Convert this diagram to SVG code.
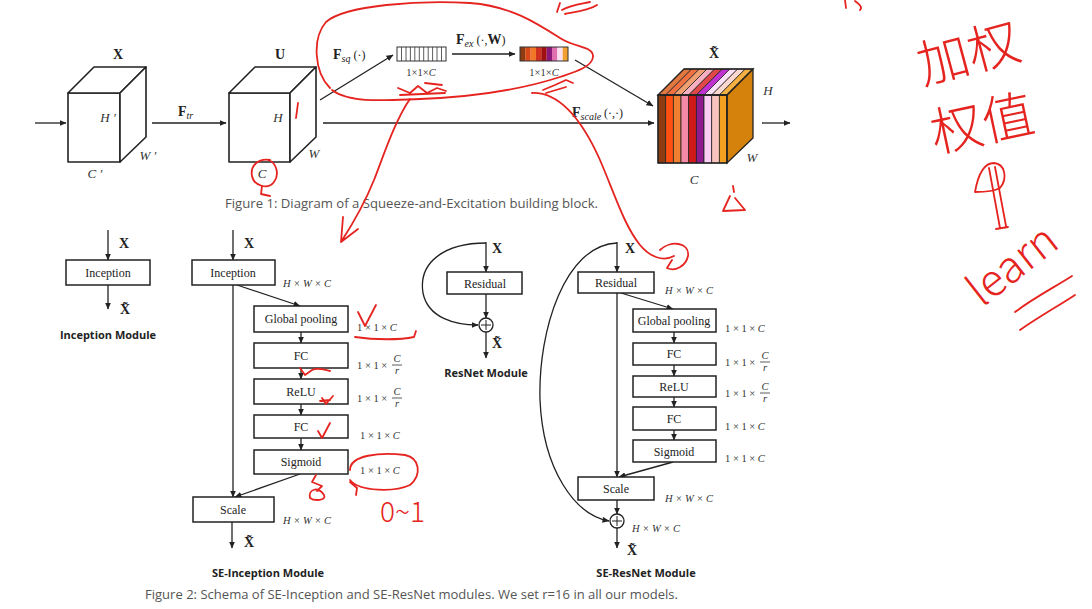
<svg xmlns="http://www.w3.org/2000/svg" width="1092" height="609" viewBox="0 0 1092 609">
<defs>
<marker id="ah" markerWidth="7" markerHeight="6" refX="6.5" refY="3" orient="auto" markerUnits="userSpaceOnUse"><path d="M0,0 L7,3 L0,6 z" fill="#222"/></marker>
<style>
.ln{stroke:#222;stroke-width:1.3;fill:none}
.box{fill:#fff;stroke:#222;stroke-width:1.5}
.cube{fill:#fff;stroke:#222;stroke-width:1.6;stroke-linejoin:round}
.t{font-family:"Liberation Serif","DejaVu Serif",serif;font-size:12px;fill:#222;text-anchor:middle}
.lab{font-family:"Liberation Serif","DejaVu Serif",serif;font-style:italic;font-size:10.5px;fill:#333}
.num{font-family:"Liberation Serif","DejaVu Serif",serif;font-size:10.5px;fill:#333}
.bx{font-family:"Liberation Serif","DejaVu Serif",serif;font-weight:bold;font-size:14px;fill:#222}
.it{font-family:"Liberation Serif","DejaVu Serif",serif;font-style:italic;font-size:13px;fill:#333}
.cap{font-family:"Open Sans","Liberation Sans",sans-serif;font-size:12.5px;fill:#555}
.mod{font-family:"Open Sans","Liberation Sans",sans-serif;font-weight:bold;font-size:11px;fill:#222;text-anchor:middle}
.red{stroke:#e52420;stroke-width:1.8;fill:none;stroke-linecap:round;stroke-linejoin:round}
.hw{fill:#e52420;font-family:"Noto Sans CJK SC","Noto Sans",sans-serif;font-weight:300}
.stp{stroke:#222;stroke-width:0.8}
</style>
</defs>
<rect width="1092" height="609" fill="#fff"/>

<!-- Figure 1 -->
<g id="cube-X">
<rect class="cube" x="68" y="93" width="52" height="69"/>
<polygon class="cube" points="68,93 94,67 146,67 120,93"/>
<polygon class="cube" points="120,93 146,67 146,137 120,162"/>
<text class="bx" x="118" y="59" text-anchor="middle">X</text>
<text class="it" x="108" y="122" text-anchor="middle">H ′</text>
<text class="it" x="148" y="160" text-anchor="middle">W ′</text>
<text class="it" x="95" y="178" text-anchor="middle">C ′</text>
</g>
<g id="cube-U">
<rect class="cube" x="229" y="93" width="61" height="69"/>
<polygon class="cube" points="229,93 255,67 316,67 290,93"/>
<polygon class="cube" points="290,93 316,67 316,137 290,162"/>
<text class="bx" x="280" y="59" text-anchor="middle">U</text>
<text class="it" x="278" y="122" text-anchor="middle">H</text>
<text class="it" x="314" y="158" text-anchor="middle">W</text>
<text class="it" x="262" y="178" text-anchor="middle">C</text>
</g>
<g id="vec-sq">
<rect x="397" y="47" width="49" height="14" fill="#fff" stroke="#333" stroke-width="1"/>
<path stroke="#333" stroke-width="0.8" d="M401.5,47V61M406,47V61M410.4,47V61M414.8,47V61M419.3,47V61M423.7,47V61M428.2,47V61M432.6,47V61M437,47V61M441.5,47V61"/>
<text class="num" x="421" y="76" text-anchor="middle" font-size="10">1×1×<tspan font-style="italic">C</tspan></text>
</g>
<g id="vec-ex">
<rect x="520" y="47" width="5.4" height="14" fill="#8c3c10"/>
<rect x="525.3" y="47" width="5.4" height="14" fill="#d84818"/>
<rect x="530.7" y="47" width="5.4" height="14" fill="#f07828"/>
<rect x="536" y="47" width="5.4" height="14" fill="#d03020"/>
<rect x="541.3" y="47" width="5.4" height="14" fill="#a01010"/>
<rect x="546.7" y="47" width="5.4" height="14" fill="#8a1a7a"/>
<rect x="552" y="47" width="5.4" height="14" fill="#e070b0"/>
<rect x="557.3" y="47" width="5.4" height="14" fill="#f8e0f0"/>
<rect x="562.7" y="47" width="5.3" height="14" fill="#f0a030"/>
<rect x="520" y="47" width="48" height="14" fill="none" stroke="#333" stroke-width="1"/>
<text class="num" x="544" y="76" text-anchor="middle" font-size="10">1×1×<tspan font-style="italic">C</tspan></text>
</g>
<g id="cube-Xt">
<rect x="658" y="95" width="7.7" height="68" fill="#8c3c10" class="stp"/>
<rect x="665.7" y="95" width="7.7" height="68" fill="#ff5010" class="stp"/>
<rect x="673.3" y="95" width="7.7" height="68" fill="#f08030" class="stp"/>
<rect x="681" y="95" width="7.7" height="68" fill="#f48aa8" class="stp"/>
<rect x="688.7" y="95" width="7.7" height="68" fill="#d01a1a" class="stp"/>
<rect x="696.3" y="95" width="7.7" height="68" fill="#8e1c8e" class="stp"/>
<rect x="704" y="95" width="7.7" height="68" fill="#fcd0f4" class="stp"/>
<rect x="711.7" y="95" width="7.7" height="68" fill="#f6c4bc" class="stp"/>
<rect x="719.3" y="95" width="7.7" height="68" fill="#f4a020" class="stp"/>
<polygon class="stp" fill="#e07840" points="658,95 684,69 691.7,69 665.7,95"/>
<polygon class="stp" fill="#f07040" points="665.7,95 691.7,69 699.3,69 673.3,95"/>
<polygon class="stp" fill="#f0a070" points="673.3,95 699.3,69 707,69 681,95"/>
<polygon class="stp" fill="#f4b0c0" points="681,95 707,69 714.7,69 688.7,95"/>
<polygon class="stp" fill="#e04848" points="688.7,95 714.7,69 722.3,69 696.3,95"/>
<polygon class="stp" fill="#c030d0" points="696.3,95 722.3,69 730,69 704,95"/>
<polygon class="stp" fill="#fce0f8" points="704,95 730,69 737.7,69 711.7,95"/>
<polygon class="stp" fill="#f8d8d0" points="711.7,95 737.7,69 745.3,69 719.3,95"/>
<polygon class="stp" fill="#f4b040" points="719.3,95 745.3,69 753,69 727,95"/>
<polygon fill="#d4820c" stroke="#222" stroke-width="1.3" points="727,95 753,69 753,138 727,163"/>
<rect x="658" y="95" width="69" height="68" fill="none" stroke="#222" stroke-width="1.4"/>
<polygon fill="none" stroke="#222" stroke-width="1.3" points="658,95 684,69 753,69 727,95"/>
<text class="bx" x="714" y="58" text-anchor="middle">X̃</text>
<text class="it" x="768" y="95" text-anchor="middle">H</text>
<text class="it" x="752" y="162" text-anchor="middle">W</text>
<text class="it" x="694" y="184" text-anchor="middle">C</text>
</g>

<g id="connectors">
<line class="ln" x1="35" y1="123" x2="66" y2="123" marker-end="url(#ah)"/>
<line class="ln" x1="152" y1="123" x2="226" y2="123" marker-end="url(#ah)"/>
<line class="ln" x1="320" y1="100" x2="393" y2="55" marker-end="url(#ah)"/>
<line class="ln" x1="452" y1="54" x2="515" y2="54" marker-end="url(#ah)"/>
<line class="ln" x1="575" y1="60" x2="653" y2="106" marker-end="url(#ah)"/>
<line class="ln" x1="323" y1="123" x2="654" y2="123" marker-end="url(#ah)"/>
<line class="ln" x1="762" y1="123" x2="790" y2="123" marker-end="url(#ah)"/>
<line class="ln" x1="108" y1="230" x2="108" y2="260" marker-end="url(#ah)"/>
<line class="ln" x1="108" y1="285" x2="108" y2="309" marker-end="url(#ah)"/>
<line class="ln" x1="233" y1="230" x2="233" y2="260" marker-end="url(#ah)"/>
<line class="ln" x1="233" y1="285" x2="233" y2="497" marker-end="url(#ah)"/>
<line class="ln" x1="237" y1="285" x2="300" y2="306" marker-end="url(#ah)"/>
<line class="ln" x1="301" y1="332" x2="301" y2="343" marker-end="url(#ah)"/>
<line class="ln" x1="301" y1="368" x2="301" y2="379" marker-end="url(#ah)"/>
<line class="ln" x1="301" y1="404" x2="301" y2="415" marker-end="url(#ah)"/>
<line class="ln" x1="301" y1="438" x2="301" y2="450" marker-end="url(#ah)"/>
<line class="ln" x1="300" y1="474" x2="235" y2="497" marker-end="url(#ah)"/>
<line class="ln" x1="232" y1="522" x2="232" y2="548" marker-end="url(#ah)"/>
<line class="ln" x1="486" y1="242" x2="486" y2="272" marker-end="url(#ah)"/>
<path class="ln" d="M486,243 C445,243 418,262 423,293 C428,318 455,325 478,325" marker-end="url(#ah)"/>
<line class="ln" x1="486" y1="294" x2="486" y2="318" marker-end="url(#ah)"/>
<line class="ln" x1="486" y1="332" x2="486" y2="358" marker-end="url(#ah)"/>
<line class="ln" x1="617" y1="242" x2="617" y2="272" marker-end="url(#ah)"/>
<path class="ln" d="M617,243 C565,245 538,330 540,400 C543,470 575,515 609,521" marker-end="url(#ah)"/>
<line class="ln" x1="617" y1="293" x2="617" y2="477" marker-end="url(#ah)"/>
<line class="ln" x1="621" y1="293" x2="673" y2="309" marker-end="url(#ah)"/>
<line class="ln" x1="674" y1="332" x2="674" y2="343" marker-end="url(#ah)"/>
<line class="ln" x1="674" y1="365" x2="674" y2="376" marker-end="url(#ah)"/>
<line class="ln" x1="674" y1="397" x2="674" y2="407" marker-end="url(#ah)"/>
<line class="ln" x1="674" y1="430" x2="674" y2="440" marker-end="url(#ah)"/>
<line class="ln" x1="673" y1="462" x2="619" y2="477" marker-end="url(#ah)"/>
<line class="ln" x1="617" y1="500" x2="617" y2="514" marker-end="url(#ah)"/>
<line class="ln" x1="617" y1="528" x2="617" y2="548" marker-end="url(#ah)"/>
</g>

<g id="fig1-labels">
<text class="bx" x="178" y="116">F<tspan font-style="italic" font-weight="normal" font-size="10" dy="3">tr</tspan></text>
<text class="bx" x="333" y="59">F<tspan font-style="italic" font-weight="normal" font-size="10" dy="3">sq</tspan><tspan font-weight="normal" font-size="12" dy="-3"> (·)</tspan></text>
<text class="bx" x="456" y="44">F<tspan font-style="italic" font-weight="normal" font-size="10" dy="3">ex</tspan><tspan font-weight="normal" font-size="12" dy="-3"> (·,</tspan>W<tspan font-weight="normal" font-size="12">)</tspan></text>
<text class="bx" x="572" y="117">F<tspan font-style="italic" font-weight="normal" font-size="10" dy="3">scale</tspan><tspan font-weight="normal" font-size="12" dy="-3"> (·,·)</tspan></text>
</g>
<text class="cap" x="225" y="208" textLength="373" lengthAdjust="spacingAndGlyphs">Figure 1: Diagram of a Squeeze-and-Excitation building block.</text>

<g id="inc">
<text class="bx" x="124" y="248" font-size="13" text-anchor="middle">X</text>
<rect class="box" x="66" y="260" width="84" height="25"/>
<text class="t" x="108" y="277">Inception</text>
<text class="bx" x="125" y="314" font-size="13" text-anchor="middle">X̃</text>
<text class="mod" x="108" y="339">Inception Module</text>
</g>

<g id="sei-inception">
<text class="bx" x="249" y="248" font-size="13" text-anchor="middle">X</text>
<rect class="box" x="192" y="260" width="83" height="25"/>
<text class="t" x="233" y="277">Inception</text>
<text class="lab" x="283" y="287">H × W × C</text>
</g>
<g id="sei-gp"><rect class="box" x="254" y="306" width="94" height="26"/><text class="t" x="301" y="323">Global pooling</text>
<text class="num" x="357" y="331">1 × 1 × <tspan font-style="italic">C</tspan></text></g>
<g id="sei-fc1"><rect class="box" x="254" y="343" width="94" height="25"/><text class="t" x="301" y="360">FC</text>
<text class="num" x="357" y="369">1 × 1 ×</text><text class="lab" x="397" y="362" text-anchor="middle">C</text><line x1="392" y1="365" x2="402" y2="365" stroke="#333" stroke-width="0.8"/><text class="lab" x="397" y="374" text-anchor="middle">r</text></g>
<g id="sei-relu"><rect class="box" x="254" y="379" width="94" height="25"/><text class="t" x="301" y="396">ReLU</text>
<text class="num" x="357" y="402">1 × 1 ×</text><text class="lab" x="397" y="395" text-anchor="middle">C</text><line x1="392" y1="398" x2="402" y2="398" stroke="#333" stroke-width="0.8"/><text class="lab" x="397" y="407" text-anchor="middle">r</text></g>
<g id="sei-fc2"><rect class="box" x="254" y="415" width="94" height="23"/><text class="t" x="301" y="431">FC</text>
<text class="num" x="360" y="439">1 × 1 × <tspan font-style="italic">C</tspan></text></g>
<g id="sei-sig"><rect class="box" x="254" y="450" width="94" height="24"/><text class="t" x="301" y="466">Sigmoid</text>
<text class="num" x="360" y="474">1 × 1 × <tspan font-style="italic">C</tspan></text></g>
<g id="sei-scale"><rect class="box" x="193" y="497" width="81" height="25"/><text class="t" x="233" y="514">Scale</text>
<text class="lab" x="283" y="524">H × W × C</text>
<text class="bx" x="249" y="547" font-size="13" text-anchor="middle">X̃</text>
<text class="mod" x="268" y="577">SE-Inception Module</text></g>

<g id="res">
<text class="bx" x="497" y="253" font-size="13" text-anchor="middle">X</text>
<rect class="box" x="447" y="272" width="75" height="22"/>
<text class="t" x="485" y="288">Residual</text>
<circle cx="486" cy="325" r="7" fill="#fff" stroke="#222" stroke-width="1.3"/>
<path d="M481,325H491M486,320V330" stroke="#222" stroke-width="1"/>
<text class="bx" x="497" y="348" font-size="13" text-anchor="middle">X̃</text>
<text class="mod" x="486" y="377">ResNet Module</text>
</g>

<g id="ser-res">
<text class="bx" x="630" y="253" font-size="13" text-anchor="middle">X</text>
<rect class="box" x="578" y="272" width="76" height="21"/>
<text class="t" x="616" y="287">Residual</text>
<text class="lab" x="665" y="294">H × W × C</text>
</g>
<g id="ser-gp"><rect class="box" x="633" y="309" width="83" height="23"/><text class="t" x="674" y="325">Global pooling</text>
<text class="num" x="725" y="332">1 × 1 × <tspan font-style="italic">C</tspan></text></g>
<g id="ser-fc1"><rect class="box" x="633" y="343" width="83" height="22"/><text class="t" x="674" y="358">FC</text>
<text class="num" x="725" y="366">1 × 1 ×</text><text class="lab" x="765" y="359" text-anchor="middle">C</text><line x1="760" y1="362" x2="770" y2="362" stroke="#333" stroke-width="0.8"/><text class="lab" x="765" y="371" text-anchor="middle">r</text></g>
<g id="ser-relu"><rect class="box" x="633" y="376" width="83" height="21"/><text class="t" x="674" y="391">ReLU</text>
<text class="num" x="725" y="397">1 × 1 ×</text><text class="lab" x="765" y="390" text-anchor="middle">C</text><line x1="760" y1="393" x2="770" y2="393" stroke="#333" stroke-width="0.8"/><text class="lab" x="765" y="402" text-anchor="middle">r</text></g>
<g id="ser-fc2"><rect class="box" x="633" y="407" width="83" height="23"/><text class="t" x="674" y="423">FC</text>
<text class="num" x="725" y="430">1 × 1 × <tspan font-style="italic">C</tspan></text></g>
<g id="ser-sig"><rect class="box" x="633" y="440" width="83" height="22"/><text class="t" x="674" y="456">Sigmoid</text>
<text class="num" x="725" y="462">1 × 1 × <tspan font-style="italic">C</tspan></text></g>
<g id="ser-scale"><rect class="box" x="578" y="477" width="76" height="23"/><text class="t" x="616" y="493">Scale</text>
<text class="lab" x="665" y="502">H × W × C</text></g>
<g id="ser-add">
<circle cx="617" cy="521" r="7" fill="#fff" stroke="#222" stroke-width="1.3"/>
<path d="M612,521H622M617,516V526" stroke="#222" stroke-width="1"/>
<text class="lab" x="632" y="532">H × W × C</text>
<text class="bx" x="632" y="555" font-size="13" text-anchor="middle">X̃</text>
<text class="mod" x="646" y="577">SE-ResNet Module</text>
</g>
<text class="cap" x="145" y="599" textLength="533" lengthAdjust="spacingAndGlyphs">Figure 2: Schema of SE-Inception and SE-ResNet modules. We set r=16 in all our models.</text>

<g id="annotations">
<path class="red" d="M330,88 C314,72 312,38 326,22 C345,5 420,0 470,3 C510,6 535,22 560,38 C575,48 594,46 593,57 C592,67 575,72 560,77 C520,90 470,97 420,99 C390,100 350,104 332,90"/>
<path class="red" d="M398,88 L410,93 L418,86 L427,93 L437,88 L446,91 M400,95 L445,93 M425,83 L442,85"/>
<path class="red" d="M543,90 L555,85 L566,80 L573,83 M546,93 L566,87"/>
<path class="red" d="M410,99 C395,120 382,160 374,180 C364,205 352,225 341,242 M341,242 L343,217 M341,242 L358,229"/>
<path class="red" d="M532,93 C560,92 582,120 600,160 C615,195 624,225 640,245 C650,257 663,262 674,256 M660,250 C670,240 690,242 688,256 C686,266 675,272 667,268 L672,260"/>
<path class="red" d="M557,12 L560,3 M562,10 C570,5 580,4 590,2 M565,14 C575,12 590,10 597,5 M845,0 L846,8 M855,1 C859,4 863,7 860,10"/>
<path class="red" d="M270,160 C258,158 250,166 252,176 C254,186 268,190 274,182 C280,174 276,162 268,160 M262,186 L261,194 L270,196"/>
<path class="red" d="M298,103 L296,118"/>
<path class="red" d="M733,186 L734,192 M730,196 L723,211 L745,210 L735,198"/>
<path class="red" d="M358,312 L365,326 L376,305 M355,337 C375,340 400,340 414,337 L416,331"/>
<path class="red" d="M300,368 L305,375 L312,370 C318,367 325,370 330,371"/>
<path class="red" d="M322,398 L326,404 L333,396 M320,401 L330,400"/>
<path class="red" d="M318,431 L322,438 L330,423"/>
<path class="red" d="M350,470 C350,455 380,452 405,455 C420,458 422,475 410,485 C395,492 360,492 350,480 M350,482 L357,488 L356,495"/>
<path class="red" d="M316,475 L312,482 L322,486 L317,491 M310,498 C308,489 318,486 324,495 C327,501 314,501 310,498"/>
<text class="hw" x="380" y="522" font-size="28" font-family="Liberation Sans,sans-serif">0~1</text>
<text class="hw" x="968" y="72" font-size="52" text-anchor="middle" transform="rotate(-15 968 52)">加权</text>
<text class="hw" x="982" y="142" font-size="52" text-anchor="middle" transform="rotate(-12 982 122)">权值</text>
<path class="red" d="M975,192 C978,175 984,163 994,163 C1005,164 1008,178 1000,188 C993,192 982,192 975,192 M989,168 L1000,228 M995,167 L1006,226 M996,229 L1008,227"/>
<text class="hw" x="982" y="308" font-size="44" font-family="Liberation Sans,sans-serif" transform="rotate(-38 982 308)">learn</text>
<path class="red" d="M1015,312 C1035,297 1055,287 1072,276 M1020,330 C1040,316 1060,305 1075,295"/>
</g>
</svg>
